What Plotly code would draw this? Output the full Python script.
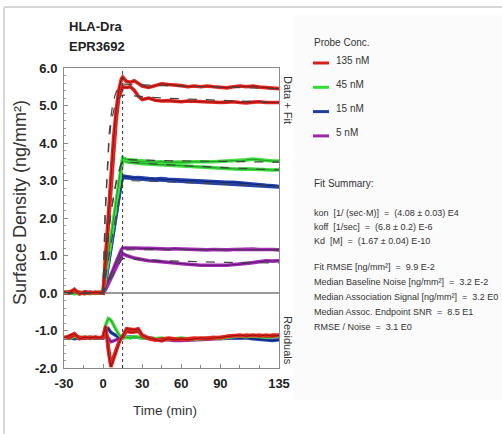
import plotly.graph_objects as go

# ---------------- data ----------------
TIME = [-30, -26, -22, -18, -14, -10, -6, -2, 0,
        2, 4, 6, 8, 10, 12, 14, 15,
        18, 21, 24, 27, 30,
        35, 40, 45, 50, 55, 60, 65, 70, 75, 80, 85, 90, 95, 100, 105, 110, 115, 120, 125, 130, 135]

RED_A = [0.02, 0.00, 0.10, -0.02, 0.03, 0.00, 0.02, 0.01, 0.00,
         1.00, 2.10, 3.20, 4.10, 4.85, 5.40, 5.70, 5.76,
         5.64, 5.62, 5.66, 5.60, 5.52,
         5.48, 5.53, 5.58, 5.56, 5.55, 5.53, 5.50, 5.52, 5.50, 5.52, 5.50, 5.48, 5.47, 5.50, 5.52, 5.50, 5.52, 5.49, 5.47, 5.46, 5.45]
RED_B = [0.00, 0.03, 0.06, 0.00, -0.02, 0.02, 0.00, 0.02, 0.00,
         0.90, 1.90, 2.90, 3.80, 4.60, 5.20, 5.45, 5.50,
         5.48, 5.50, 5.40, 5.25, 5.16,
         5.20, 5.14, 5.12, 5.13, 5.12, 5.10, 5.12, 5.11, 5.10, 5.09, 5.10, 5.08, 5.09, 5.10, 5.08, 5.07, 5.09, 5.10, 5.08, 5.09, 5.08]
GREEN_A = [0.00, 0.03, -0.02, 0.02, 0.00, -0.02, 0.02, 0.00, 0.00,
           0.50, 1.00, 1.50, 2.00, 2.50, 3.00, 3.45, 3.60,
           3.56, 3.55, 3.53, 3.52, 3.50,
           3.50, 3.49, 3.50, 3.48, 3.49, 3.48, 3.49, 3.50, 3.49, 3.50, 3.50, 3.51, 3.52, 3.53, 3.52, 3.55, 3.57, 3.55, 3.53, 3.52, 3.52]
GREEN_B = [0.02, 0.00, 0.04, -0.02, 0.02, 0.00, -0.01, 0.02, 0.00,
           0.45, 0.95, 1.45, 1.95, 2.45, 2.95, 3.40, 3.55,
           3.50, 3.48, 3.47, 3.46, 3.45,
           3.44, 3.43, 3.42, 3.42, 3.41, 3.40, 3.38, 3.37, 3.36, 3.35, 3.34, 3.32, 3.32, 3.31, 3.30, 3.31, 3.30, 3.29, 3.30, 3.28, 3.29]
BLUE_A = [0.00, 0.02, 0.00, -0.02, 0.02, 0.00, 0.01, 0.00, 0.00,
          0.35, 0.80, 1.25, 1.70, 2.15, 2.60, 3.00, 3.12,
          3.10, 3.08, 3.07, 3.08, 3.06,
          3.05, 3.04, 3.05, 3.03, 3.02, 3.00, 3.01, 2.99, 2.98, 2.98, 2.97, 2.96, 2.95, 2.95, 2.93, 2.92, 2.90, 2.89, 2.87, 2.86, 2.84]
BLUE_B = [0.02, 0.00, 0.02, 0.00, 0.00, 0.02, 0.00, 0.01, 0.00,
          0.33, 0.78, 1.22, 1.67, 2.12, 2.57, 2.96, 3.08,
          3.07, 3.05, 3.04, 3.05, 3.03,
          3.02, 3.02, 3.01, 3.00, 2.99, 2.98, 2.98, 2.97, 2.96, 2.95, 2.95, 2.94, 2.93, 2.92, 2.91, 2.90, 2.89, 2.87, 2.86, 2.85, 2.83]
PURPLE_A = [0.00, 0.02, 0.00, 0.02, 0.00, 0.00, 0.02, 0.00, 0.00,
            0.15, 0.30, 0.48, 0.65, 0.82, 1.00, 1.15, 1.20,
            1.21, 1.20, 1.20, 1.19, 1.19,
            1.19, 1.18, 1.18, 1.17, 1.18, 1.17, 1.16, 1.16, 1.15, 1.15, 1.16, 1.15, 1.15, 1.16, 1.17, 1.16, 1.17, 1.16, 1.17, 1.16, 1.15]
PURPLE_B = [0.02, 0.00, 0.02, 0.00, 0.02, 0.00, 0.00, 0.02, 0.00,
            0.10, 0.25, 0.40, 0.55, 0.72, 0.88, 1.00, 1.05,
            1.00, 0.96, 0.93, 0.91, 0.89,
            0.86, 0.85, 0.84, 0.82, 0.80, 0.78, 0.76, 0.75, 0.74, 0.74, 0.75, 0.74, 0.74, 0.75, 0.77, 0.79, 0.81, 0.83, 0.86, 0.85, 0.86]

FIT_TIME = [-30, 0, 1.5, 3, 4.5, 6, 7.5, 9, 10.5, 12, 13.5, 15, 45, 90, 135]
FIT_RED_A = [0, 0, 2.10, 3.40, 4.20, 4.70, 5.05, 5.25, 5.40, 5.48, 5.53, 5.57, 5.53, 5.49, 5.45]
FIT_RED_B = [0, 0, 2.00, 3.20, 4.00, 4.50, 4.80, 5.00, 5.12, 5.20, 5.25, 5.28, 5.20, 5.14, 5.08]
FIT_GREEN_A = [0, 0, 0.65, 1.25, 1.75, 2.15, 2.50, 2.80, 3.05, 3.25, 3.42, 3.56, 3.53, 3.51, 3.49]
FIT_GREEN_B = [0, 0, 0.63, 1.20, 1.70, 2.10, 2.45, 2.75, 3.00, 3.20, 3.37, 3.50, 3.43, 3.35, 3.28]
FIT_BLUE_A = [0, 0, 0.34, 0.67, 0.99, 1.30, 1.60, 1.90, 2.18, 2.46, 2.73, 3.00, 2.97, 2.90, 2.84]
FIT_PURPLE_A = [0, 0, 0.13, 0.26, 0.38, 0.50, 0.62, 0.73, 0.84, 0.95, 1.05, 1.15, 1.16, 1.16, 1.15]
FIT_PURPLE_B = [0, 0, 0.10, 0.20, 0.30, 0.40, 0.50, 0.59, 0.68, 0.76, 0.84, 0.92, 0.86, 0.82, 0.80]

RES_RED_A = [-1.20, -1.15, -1.08, -1.22, -1.18, -1.20, -1.17, -1.20, -1.15,
             -0.88, -1.55, -1.97, -1.75, -1.55, -1.35, -1.18, -1.15,
             -0.95, -0.96, -0.98, -0.95, -1.12,
             -1.20, -1.24, -1.28, -1.22, -1.25, -1.22, -1.25, -1.22, -1.20, -1.22, -1.20, -1.20, -1.18, -1.15, -1.12, -1.15, -1.12, -1.15, -1.12, -1.15, -1.13]
RES_RED_B = [-1.18, -1.20, -1.12, -1.18, -1.20, -1.18, -1.20, -1.18, -1.18,
             -0.92, -1.50, -1.90, -1.70, -1.50, -1.32, -1.20, -1.18,
             -1.02, -1.05, -1.04, -1.02, -1.15,
             -1.22, -1.26, -1.24, -1.20, -1.22, -1.25, -1.22, -1.20, -1.22, -1.20, -1.18, -1.20, -1.15, -1.13, -1.15, -1.12, -1.14, -1.12, -1.15, -1.12, -1.12]
RES_GREEN = [-1.18, -1.22, -1.15, -1.20, -1.17, -1.22, -1.18, -1.20, -1.18,
             -0.85, -0.68, -0.72, -0.85, -1.00, -1.10, -1.18, -1.20,
             -1.18, -1.20, -1.16, -1.18, -1.20,
             -1.20, -1.22, -1.20, -1.24, -1.22, -1.20, -1.22, -1.24, -1.22, -1.20, -1.20, -1.22, -1.18, -1.17, -1.15, -1.17, -1.15, -1.16, -1.18, -1.17, -1.15]
RES_BLUE = [-1.20, -1.18, -1.22, -1.19, -1.20, -1.18, -1.21, -1.19, -1.20,
            -1.00, -0.95, -1.05, -1.10, -1.15, -1.18, -1.20, -1.20,
            -1.18, -1.17, -1.18, -1.20, -1.20,
            -1.21, -1.22, -1.22, -1.23, -1.22, -1.24, -1.23, -1.22, -1.23, -1.22, -1.21, -1.20, -1.19, -1.20, -1.19, -1.20, -1.22, -1.24, -1.26, -1.27, -1.25]
RES_PURPLE = [-1.20, -1.19, -1.21, -1.20, -1.19, -1.21, -1.20, -1.19, -1.20,
              -1.10, -1.20, -1.30, -1.28, -1.25, -1.20, -1.18, -1.17,
              -1.00, -1.00, -1.02, -1.00, -1.12,
              -1.20, -1.22, -1.24, -1.26, -1.27, -1.27, -1.26, -1.27, -1.26, -1.25, -1.24, -1.22, -1.20, -1.19, -1.18, -1.17, -1.16, -1.17, -1.18, -1.18, -1.17]

Y_TICKS = [-2, -1, 0, 1, 2, 3, 4, 5, 6]
Y_TICK_LABELS = ["-2.0", "-1.0", "0.0", "1.0", "2.0", "3.0", "4.0", "5.0", "6.0"]
X_TICKS = [-30, 0, 30, 60, 90, 135]
X_TICK_LABELS = ["-30", "0", "30", "60", "90", "135"]

LEGEND_LABELS = ["135 nM", "45 nM", "15 nM", "5 nM"]
SUMMARY_LINES = [
    "kon\u00a0 [1/ (sec·M)]\u00a0 =\u00a0 (4.08 ± 0.03) E4",
    "koff\u00a0 [1/sec]\u00a0 =\u00a0 (6.8 ± 0.2) E-6",
    "Kd\u00a0 [M]\u00a0 =\u00a0 (1.67 ± 0.04) E-10",
    "Fit RMSE [ng/mm²]\u00a0 =\u00a0 9.9 E-2",
    "Median Baseline Noise [ng/mm²]\u00a0 =\u00a0 3.2 E-2",
    "Median Association Signal [ng/mm²]\u00a0 =\u00a0 3.2 E0",
    "Median Assoc. Endpoint SNR\u00a0 =\u00a0 8.5 E1",
    "RMSE / Noise\u00a0 =\u00a0 3.1 E0",
]

# ---------------- styling ----------------
W, H = 502, 434
PL, PR, PT, PB = 64, 279, 68, 368
FONT = "Liberation Sans, Arial, sans-serif"

OUTER = {"red": "#e5271f", "green": "#3fe03f", "blue": "#2544ad", "purple": "#a42fb5"}
INNER = {"red": "#8e1212", "green": "#1f9c24", "blue": "#0e2070", "purple": "#5a1470"}
LEG = {"red": "#d42020", "green": "#33dd33", "blue": "#1e3f9e", "purple": "#9a2aa8"}


def px(x):
    return (x - PL) / (PR - PL)


def py(y):
    return (PB - y) / (PB - PT)


fig = go.Figure()


def band(x, y, c, w=3.6):
    fig.add_trace(go.Scatter(x=x, y=y, mode="lines", line=dict(color=OUTER[c], width=w),
                             hoverinfo="skip", showlegend=False))
    fig.add_trace(go.Scatter(x=x, y=y, mode="lines", line=dict(color=INNER[c], width=1),
                             hoverinfo="skip", showlegend=False))


# residuals
for y, c in [(RES_PURPLE, "purple"), (RES_BLUE, "blue"), (RES_GREEN, "green"),
             (RES_RED_B, "red"), (RES_RED_A, "red")]:
    band(TIME, y, c, 3.4)

# data
for y, c in [(PURPLE_B, "purple"), (PURPLE_A, "purple"), (BLUE_B, "blue"), (BLUE_A, "blue"),
             (GREEN_B, "green"), (GREEN_A, "green"), (RED_B, "red"), (RED_A, "red")]:
    band(TIME, y, c)

# fits
for y in [FIT_PURPLE_B, FIT_PURPLE_A, FIT_BLUE_A, FIT_GREEN_B, FIT_GREEN_A, FIT_RED_B, FIT_RED_A]:
    fig.add_trace(go.Scatter(x=FIT_TIME, y=y, mode="lines",
                             line=dict(color="#444444", width=1.2, dash="dash"),
                             hoverinfo="skip", showlegend=False))

shapes = []
# outer frame and side panel
shapes.append(dict(type="rect", xref="paper", yref="paper", x0=px(293), x1=px(502), y0=py(400), y1=py(15),
                   fillcolor="#fbfbfb", line=dict(width=0), layer="below"))
shapes.append(dict(type="line", xref="paper", yref="paper", x0=px(4), x1=px(502), y0=py(7), y1=py(7),
                   line=dict(color="#d6d6d6", width=2)))
shapes.append(dict(type="line", xref="paper", yref="paper", x0=px(4), x1=px(4), y0=py(7), y1=py(434),
                   line=dict(color="#d6d6d6", width=2)))
# zero divider
shapes.append(dict(type="line", xref="x", yref="y", x0=-30, x1=135, y0=0, y1=0,
                   line=dict(color="#9a9a9a", width=2), layer="below"))
# dotted injection line
shapes.append(dict(type="line", xref="x", yref="paper", x0=15, x1=15, y0=0, y1=1,
                   line=dict(color="#333333", width=1, dash="dot")))

annotations = []


def note(text, x, y, size, anchor="left", angle=0, bold=False, color="#333333"):
    annotations.append(dict(text=text, x=px(x), y=py(y), xref="paper", yref="paper",
                            xanchor=anchor, yanchor="middle", textangle=angle, showarrow=False,
                            font=dict(family=FONT, size=size, color=color,
                                      weight="bold" if bold else "normal")))


note("HLA-Dra", 67, 27, 13, bold=True, color="#222222")
note("EPR3692", 67, 47, 13, bold=True, color="#222222")
note("Surface Density (ng/mm²)", 20, 203, 18, anchor="center", angle=-90)
note("Time (min)", 165, 410, 13.5, anchor="center")
note("Data + Fit", 288, 100, 11, anchor="center", angle=90)
note("Residuals", 288, 340, 11, anchor="center", angle=90)
note("Probe Conc.", 312, 42, 10)
for i, (lab, c) in enumerate(zip(LEGEND_LABELS, ["red", "green", "blue", "purple"])):
    yy = 63 + 24.3 * i
    shapes.append(dict(type="line", xref="paper", yref="paper", x0=px(313), x1=px(329),
                       y0=py(yy), y1=py(yy), line=dict(color=LEG[c], width=3)))
    note(lab, 334, yy - 3, 10)
note("Fit Summary:", 312, 183, 10)
SUM_Y = [213, 227, 241, 267, 282, 297, 312, 327]
for txt, yy in zip(SUMMARY_LINES, SUM_Y):
    note(txt, 312, yy, 9)

fig.update_layout(
    width=W, height=H,
    margin=dict(l=PL, r=W - PR, t=PT, b=H - PB, pad=0),
    paper_bgcolor="white", plot_bgcolor="white",
    showlegend=False,
    shapes=shapes, annotations=annotations,
    xaxis=dict(range=[-30, 135], tickvals=X_TICKS, ticktext=X_TICK_LABELS,
               showgrid=False, zeroline=False, showline=True, mirror=True,
               linecolor="#8a8a8a", linewidth=1, ticks="inside", ticklen=4, tickcolor="#8a8a8a",
               minor=dict(tickvals=[-15, 15, 45, 75, 105, 120], ticks="inside", ticklen=3, tickcolor="#8a8a8a"),
               tickfont=dict(family=FONT, size=13, color="#222222", weight="bold"), ticklabelstandoff=3),
    yaxis=dict(range=[-2, 6], tickvals=Y_TICKS, ticktext=Y_TICK_LABELS,
               showgrid=False, zeroline=False, showline=True, mirror=True,
               linecolor="#8a8a8a", linewidth=1, ticks="inside", ticklen=4, tickcolor="#8a8a8a",
               minor=dict(dtick=0.2, ticks="inside", ticklen=2, tickcolor="#9a9a9a"),
               tickfont=dict(family=FONT, size=13, color="#222222", weight="bold"), ticklabelstandoff=3),
)

fig.write_html("out.html", config={"displayModeBar": False},
               post_script="document.body.style.margin='0';document.body.style.overflow='hidden';")
